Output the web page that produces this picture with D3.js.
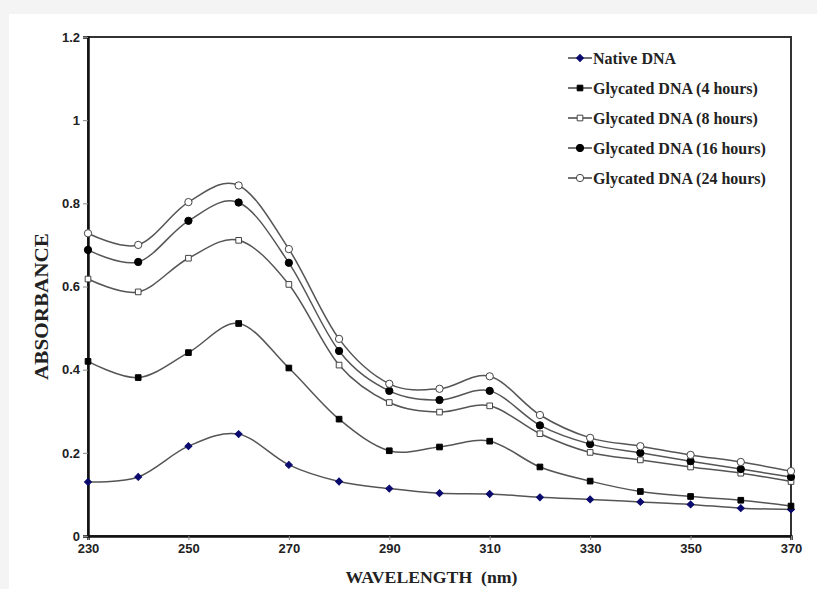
<!DOCTYPE html>
<html lang="en">
<head>
  <meta charset="UTF-8">
  <title>Absorbance spectra</title>
  <script src="https://d3js.org/d3.v7.min.js"></script>
  <style>
    body { margin: 0; overflow: hidden; background: #f4f4f4; }
    .tick text { font-family: 'Liberation Sans', Arial, sans-serif; font-weight: bold; font-size: 13px; fill: #222; }
    .title { font-family: 'Liberation Serif', 'Times New Roman', serif; font-weight: bold; fill: #222; }
    .legend text { font-family: 'Liberation Serif', 'Times New Roman', serif; font-weight: bold; font-size: 16px; fill: #222; }
  </style>
</head>
<body>
<div id="chart"></div>
<script>
    // wavelengths (nm)
    const wavelengths = [230, 240, 250, 260, 270, 280, 290, 300, 310, 320, 330, 340, 350, 360, 370];

    const nativeDNA = [0.130, 0.142, 0.216, 0.245, 0.171, 0.131, 0.114, 0.103, 0.101, 0.093, 0.088, 0.082, 0.076, 0.067, 0.064];
    const glycated4h = [0.420, 0.381, 0.441, 0.511, 0.404, 0.281, 0.205, 0.214, 0.228, 0.166, 0.132, 0.107, 0.095, 0.086, 0.072];
    const glycated8h = [0.618, 0.587, 0.668, 0.711, 0.605, 0.411, 0.321, 0.298, 0.313, 0.246, 0.201, 0.183, 0.166, 0.151, 0.131];
    const glycated16h = [0.688, 0.659, 0.758, 0.802, 0.657, 0.445, 0.349, 0.327, 0.349, 0.266, 0.221, 0.200, 0.180, 0.161, 0.142];
    const glycated24h = [0.728, 0.700, 0.803, 0.843, 0.690, 0.474, 0.366, 0.354, 0.384, 0.291, 0.236, 0.216, 0.195, 0.178, 0.156];

    const seriesNames = ["Native DNA", "Glycated DNA (4 hours)", "Glycated DNA (8 hours)",
                         "Glycated DNA (16 hours)", "Glycated DNA (24 hours)"];
    const xTicks = [230, 250, 270, 290, 310, 330, 350, 370];
    const yTicks = [0, 0.2, 0.4, 0.6, 0.8, 1, 1.2];

    const series = [
        { name: seriesNames[0], values: nativeDNA, marker: "diamond", fill: "#0a0a6e", stroke: "#0a0a6e" },
        { name: seriesNames[1], values: glycated4h, marker: "square", fill: "#000", stroke: "#000" },
        { name: seriesNames[2], values: glycated8h, marker: "square", fill: "#fff", stroke: "#444" },
        { name: seriesNames[3], values: glycated16h, marker: "circle", fill: "#000", stroke: "#000" },
        { name: seriesNames[4], values: glycated24h, marker: "circle", fill: "#fff", stroke: "#444" }
    ];

    const W = 817, H = 589;
    const margin = { top: 37, right: 26, bottom: 53, left: 88 },
        width = W - margin.left - margin.right,
        height = H - margin.top - margin.bottom;

    const root = d3.select("#chart").append("svg")
        .attr("width", W)
        .attr("height", H);

    // white card
    root.append("rect")
        .attr("x", 9).attr("y", 14)
        .attr("width", W - 9).attr("height", H - 14)
        .attr("fill", "#fff");

    const svg = root.append("g")
        .attr("transform", `translate(${margin.left},${margin.top})`);

    const x = d3.scaleLinear().domain([230, 370]).range([0, width]);
    const y = d3.scaleLinear().domain([0, 1.2]).range([height, 0]);

    // frame
    svg.append("rect")
        .attr("width", width).attr("height", height)
        .attr("fill", "none")
        .attr("stroke", "#333")
        .attr("stroke-width", 2);

    // axes
    const xAxis = svg.append("g")
        .attr("transform", `translate(0,${height})`)
        .call(d3.axisBottom(x).tickValues(xTicks).tickFormat(d3.format("d")).tickSize(4).tickPadding(4));
    const yAxis = svg.append("g")
        .call(d3.axisLeft(y).tickValues(yTicks).tickFormat(d => d === 0 || d === 1 ? d : d.toFixed(1)).tickSize(5).tickPadding(3));
    [xAxis, yAxis].forEach(a => {
        a.select(".domain").attr("stroke", "#111").attr("stroke-width", 2.5);
        a.selectAll(".tick line").attr("stroke", "#888");
    });

    // axis titles
    svg.append("text")
        .attr("class", "title")
        .attr("x", width / 2 - 8)
        .attr("y", height + 47)
        .attr("text-anchor", "middle")
        .attr("textLength", 172)
        .attr("lengthAdjust", "spacingAndGlyphs")
        .style("font-size", "16px")
        .style("white-space", "pre")
        .text("WAVELENGTH  (nm)");

    svg.append("text")
        .attr("class", "title")
        .attr("transform", `translate(${-40},${height / 2 + 20}) rotate(-90)`)
        .attr("text-anchor", "middle")
        .attr("textLength", 147)
        .attr("lengthAdjust", "spacingAndGlyphs")
        .style("font-size", "19px")
        .text("ABSORBANCE");

    // lines
    const line = d3.line()
        .x((d, i) => x(wavelengths[i]))
        .y(d => y(d))
        .curve(d3.curveCardinal.tension(0));

    series.forEach(s => {
        svg.append("path")
            .attr("d", line(s.values))
            .attr("fill", "none")
            .attr("stroke", "#555")
            .attr("stroke-width", 1.5);
    });

    function symbolFor(m) {
        if (m === "diamond") return d3.symbol().type(d3.symbolSquare).size(24)();
        if (m === "square") return d3.symbol().type(d3.symbolSquare).size(32)();
        return d3.symbol().type(d3.symbolCircle).size(42)();
    }
    function rot(m) { return m === "diamond" ? " rotate(45)" : ""; }

    series.forEach(s => {
        svg.append("g")
            .selectAll("path")
            .data(s.values)
            .enter()
            .append("path")
            .attr("transform", (d, i) => `translate(${x(wavelengths[i])},${y(d)})` + rot(s.marker))
            .attr("d", symbolFor(s.marker))
            .attr("fill", s.fill)
            .attr("stroke", s.stroke)
            .attr("stroke-width", 1);
    });

    // legend
    const legend = root.append("g")
        .attr("class", "legend")
        .attr("transform", "translate(568,58)");

    const items = legend.selectAll("g")
        .data(series)
        .enter()
        .append("g")
        .attr("transform", (d, i) => `translate(0,${i * 30})`);

    items.append("line")
        .attr("x1", 0).attr("x2", 24)
        .attr("stroke", "#444").attr("stroke-width", 1.5);
    items.append("path")
        .attr("transform", d => "translate(12,0)" + rot(d.marker))
        .attr("d", d => symbolFor(d.marker))
        .attr("fill", d => d.fill)
        .attr("stroke", d => d.stroke);
    items.append("text")
        .attr("x", 25)
        .attr("dy", "0.35em")
        .text(d => d.name);
</script>
</body>
</html>
